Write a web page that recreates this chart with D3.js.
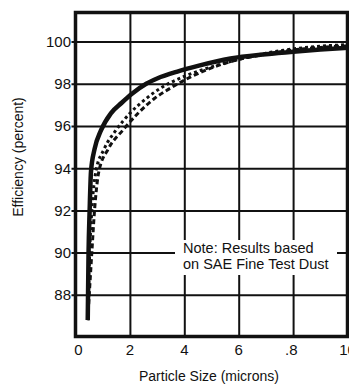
<!DOCTYPE html>
<html>
<head>
<meta charset="utf-8">
<script src="https://cdn.jsdelivr.net/npm/d3@7"></script>
<style>
  body { margin: 0; background: #fff; }
  text { font-family: "Liberation Sans Narrow", "Liberation Sans", Arial, sans-serif; fill: #111; }
</style>
</head>
<body>
<div id="chart"></div>
<script>
// data
var xTicks = [0, 2, 4, 6, 8, 10];
var xTickLabels = ["0", "2", "4", "6", ".8", "10"];
var yTicks = [88, 90, 92, 94, 96, 98, 100];

var solidX = [0.45, 0.48, 0.52, 0.57, 0.7, 0.94, 1.3, 1.7, 2.1, 2.6, 3.0, 3.8, 4.5, 5.7, 7.0, 8.0, 9.0, 10.0];
var solidY = [86.8, 90.0, 92.0, 93.85, 94.9, 95.8, 96.6, 97.1, 97.55, 98.0, 98.25, 98.6, 98.85, 99.2, 99.4, 99.52, 99.62, 99.7];

var dottedX = [0.45, 0.52, 0.6, 0.75, 1.05, 1.49, 2.0, 2.6, 3.2, 4.0, 5.0, 6.0, 7.0, 8.0, 9.0, 10.0];
var dottedY = [86.8, 90.0, 92.0, 93.85, 94.9, 95.8, 96.6, 97.3, 97.85, 98.35, 98.8, 99.15, 99.45, 99.65, 99.78, 99.85];

var dashedX = [0.45, 0.6, 0.7, 0.86, 1.2, 1.74, 2.3, 2.9, 3.5, 4.2, 5.0, 6.0, 7.0, 8.0, 9.0, 10.0];
var dashedY = [86.8, 90.0, 92.0, 93.85, 94.9, 95.8, 96.6, 97.3, 97.8, 98.3, 98.75, 99.15, 99.4, 99.6, 99.72, 99.8];

var noteLines = ["Note: Results based", "on SAE Fine Test Dust"];

var W = 349, H = 388;
var plotLeft = 75.5, plotRight = 347.5, plotTop = 12.5, plotBottom = 336.5;

var svg = d3.select("#chart")
  .append("svg")
    .attr("width", W)
    .attr("height", H);

var x = d3.scaleLinear().domain([0, 10]).range([plotLeft, plotRight]);
var y = d3.scaleLinear().domain([86, 101.4]).range([337, 12]);

// gridlines (with little ticks sticking out left)
svg.append("g")
  .attr("transform", "translate(" + plotLeft + ",0)")
  .call(d3.axisLeft(y).tickValues(yTicks).tickSize(-(plotRight - plotLeft)).tickSizeOuter(0).tickFormat(""))
  .call(function(g) { g.select(".domain").remove(); })
  .selectAll("line")
    .attr("x1", -4)
    .attr("stroke", "#111")
    .attr("stroke-width", 2);

svg.append("g")
  .attr("transform", "translate(0," + plotBottom + ")")
  .call(d3.axisBottom(x).tickValues(xTicks.slice(1, 5)).tickSize(-(plotBottom - plotTop)).tickSizeOuter(0).tickFormat(""))
  .call(function(g) { g.select(".domain").remove(); })
  .selectAll("line")
    .attr("stroke", "#111")
    .attr("stroke-width", 2);

// note box blanks the grid behind it
svg.append("rect")
  .attr("x", 175).attr("y", 240)
  .attr("width", 162).attr("height", 35)
  .attr("fill", "#fff");

svg.append("g").selectAll("text")
  .data(noteLines)
  .enter()
  .append("text")
    .attr("x", 183)
    .attr("y", function(d, i) { return 253 + i * 16; })
    .style("font-size", "14.5px")
    .text(function(d) { return d; });

// frame
svg.append("rect")
  .attr("x", plotLeft).attr("y", plotTop)
  .attr("width", plotRight - plotLeft).attr("height", plotBottom - plotTop)
  .attr("fill", "none")
  .attr("stroke", "#111")
  .attr("stroke-width", 3.5);

// curves
var line = d3.line()
  .x(function(d) { return x(d[0]); })
  .y(function(d) { return y(d[1]); })
  .curve(d3.curveMonotoneX);

function pts(xs, ys) { return xs.map(function(v, i) { return [v, ys[i]]; }); }

svg.append("path")
  .attr("d", line(pts(dashedX, dashedY)))
  .attr("fill", "none")
  .attr("stroke", "#111")
  .attr("stroke-width", 3)
  .attr("stroke-dasharray", "5,3");

svg.append("path")
  .attr("d", line(pts(dottedX, dottedY)))
  .attr("fill", "none")
  .attr("stroke", "#111")
  .attr("stroke-width", 3)
  .attr("stroke-dasharray", "3,3");

svg.append("path")
  .attr("d", line(pts(solidX, solidY)))
  .attr("fill", "none")
  .attr("stroke", "#111")
  .attr("stroke-width", 4.5);

// tick labels
svg.append("g").selectAll("text")
  .data(yTicks)
  .enter()
  .append("text")
    .attr("x", 71)
    .attr("y", function(d) { return y(d); })
    .attr("dy", "0.36em")
    .attr("text-anchor", "end")
    .style("font-size", "15px")
    .text(function(d) { return d; });

svg.append("g").selectAll("text")
  .data(xTicks)
  .enter()
  .append("text")
    .attr("x", function(d) { return x(d) + (d === 0 ? 3 : 0); })
    .attr("y", 355)
    .attr("text-anchor", function(d, i) { return xTickLabels[i].charAt(0) === "." ? "end" : "middle"; })
    .attr("dx", function(d, i) { return xTickLabels[i].charAt(0) === "." ? "0.3em" : 0; })
    .style("font-size", "15px")
    .text(function(d, i) { return xTickLabels[i]; });

// axis titles
svg.append("text")
  .attr("x", 209)
  .attr("y", 381)
  .attr("text-anchor", "middle")
  .style("font-size", "14px")
  .text("Particle Size (microns)");

svg.append("text")
  .attr("transform", "translate(23,157) rotate(-90)")
  .attr("text-anchor", "middle")
  .style("font-size", "14px")
  .text("Efficiency (percent)");
</script>
</body>
</html>
